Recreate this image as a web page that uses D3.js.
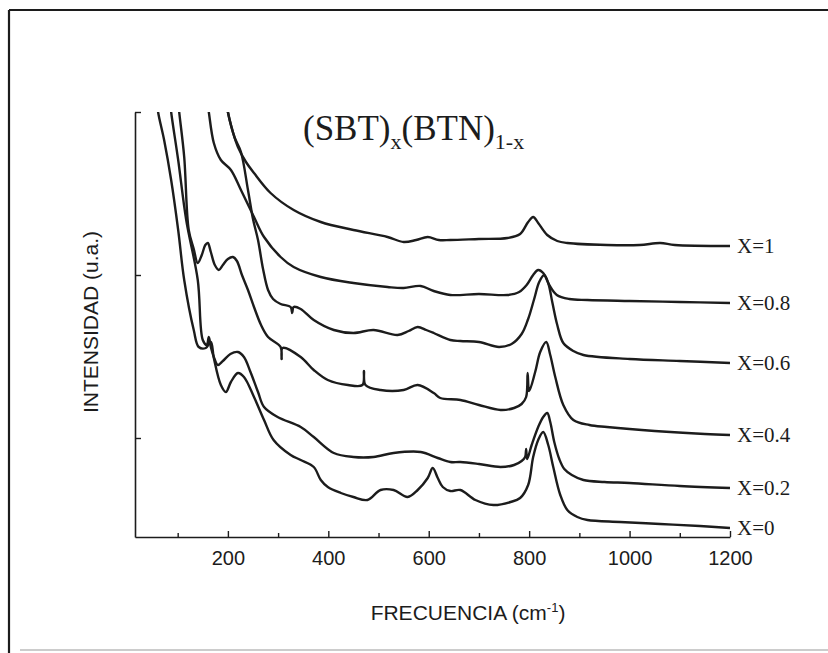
<!DOCTYPE html>
<html><head><meta charset="utf-8">
<script src="https://cdn.jsdelivr.net/npm/d3@7"></script>
<style>body{margin:0;background:#fff}svg{display:block}</style>
</head><body>
<svg id="c" width="828" height="653"></svg>
<script>
// ---- data (frequency cm^-1, intensity a.u.) ----
const xMajorTicks = [200, 400, 600, 800, 1000, 1200];
const xMinorTicks = [100, 300, 500, 700, 900, 1100];
const yTicks = [99, 262, 425];
const seriesNames = ["X=0", "X=0.2", "X=0.4", "X=0.6", "X=0.8", "X=1"];

const specX0 = [[58,440],[61,425],[73,397],[87,357],[101,307],[113,257],[132,207],[142,190],[156,189],[166,195],[172,179],[186,152],[196,145],[206,155],[220,164],[232,160],[252,140],[272,117],[291,97],[325,82],[345,77],[371,70],[385,57],[399,50],[425,44],[450,40],[478,37],[504,47],[530,47],[558,40],[578,47],[598,59],[608,69],[618,59],[628,50],[643,46],[663,47],[693,37],[729,32],[763,35],[782,39],[798,52],[808,80],[818,97],[828,105],[838,92],[848,70],[862,42],[876,27],[896,20],[916,17],[981,15],[1061,13],[1140,11],[1200,9]];
const specX02 = [[84,440],[87,425],[101,377],[117,317],[140,257],[150,197],[158,192],[162,200],[166,190],[172,180],[180,172],[190,176],[205,183],[220,185],[232,180],[245,165],[260,145],[272,130],[299,120],[345,110],[371,100],[411,84],[450,80],[490,80],[530,84],[584,85],[618,79],[643,75],[663,75],[700,73],[743,70],[770,72],[785,76],[792,80],[794,88],[796,78],[805,92],[818,110],[828,120],[836,124],[842,115],[850,95],[860,78],[870,68],[885,62],[908,57],[950,55],[1000,54],[1100,51],[1200,49]];
const specX04 = [[100,440],[103,425],[113,380],[122,307],[132,288],[140,274],[148,282],[155,292],[160,294],[166,285],[174,272],[182,267],[190,272],[200,278],[210,280],[218,276],[228,262],[240,247],[252,230],[266,212],[280,200],[305,190],[307,178],[309,189],[345,180],[371,167],[399,157],[439,152],[468,152],[471,166],[474,152],[504,147],[550,147],[578,152],[610,144],[623,139],[663,137],[700,132],[743,127],[770,129],[785,133],[794,140],[797,164],[800,146],[812,165],[822,185],[834,195],[842,182],[852,160],[868,132],[888,117],[920,112],[955,110],[1050,106],[1150,103],[1200,102]];
const specX06 = [[195,440],[200,425],[213,400],[226,385],[240,347],[250,318],[260,297],[270,268],[280,247],[290,238],[305,233],[325,230],[328,224],[331,230],[345,228],[371,217],[411,207],[450,204],[490,207],[538,202],[560,206],[578,210],[595,207],[610,204],[643,197],[663,196],[700,195],[740,190],[765,193],[785,203],[798,218],[810,238],[820,255],[830,262],[838,254],[846,235],[856,212],[868,194],[888,186],[908,182],[1000,178],[1100,176],[1200,174]];
const specX08 = [[158,440],[162,425],[172,394],[186,377],[206,367],[226,347],[252,320],[272,300],[305,280],[331,270],[385,260],[450,254],[518,250],[550,249],[584,251],[610,246],[643,242],[700,243],[757,242],[780,245],[795,252],[808,262],[818,267],[828,264],[840,252],[855,242],[880,238],[916,237],[1000,236],[1100,235],[1200,234]];
const specX1 = [[196,440],[200,425],[210,405],[220,390],[236,375],[252,364],[285,344],[331,327],[385,315],[450,307],[518,300],[550,295],[575,297],[598,300],[620,297],[643,297],[700,298],[757,299],[782,303],[798,315],[808,320],[818,314],[836,302],[856,296],[876,294],[955,292],[1020,292],[1061,294],[1090,292],[1200,291]];
const allSeries = [specX0, specX02, specX04, specX06, specX08, specX1];

// ---- drawing ----
const svg = d3.select("#c");
const ink = "#1c1c1c";
const sans = "'Liberation Sans', Arial, sans-serif";
const serif = "'Liberation Serif', 'Times New Roman', serif";

// outer frame (scanned figure border)
svg.append("line").attr("x1",9).attr("y1",10).attr("x2",828).attr("y2",10).attr("stroke",ink).attr("stroke-width",2.2);
svg.append("line").attr("x1",9).attr("y1",10).attr("x2",9).attr("y2",653).attr("stroke",ink).attr("stroke-width",2.2);
svg.append("line").attr("x1",20).attr("y1",650).attr("x2",828).attr("y2",650).attr("stroke","#bbb").attr("stroke-width",1.5);

const x = d3.scaleLinear().domain([15, 1200]).range([135, 730]);
const y = d3.scaleLinear().domain([0, 425]).range([537, 112]);

svg.append("defs").append("clipPath").attr("id","plot")
  .append("rect").attr("x",135).attr("y",112).attr("width",600).attr("height",425);

// axes
const gx = svg.append("g").attr("transform","translate(0,537)")
  .call(d3.axisBottom(x).tickValues(xMajorTicks).tickFormat(d3.format("d"))
        .tickSizeInner(-6).tickSizeOuter(0).tickPadding(14));
const gxm = svg.append("g").attr("transform","translate(0,537)")
  .call(d3.axisBottom(x).tickValues(xMinorTicks).tickSizeInner(-4).tickSizeOuter(0).tickFormat(""));
gxm.select(".domain").remove();
const gy = svg.append("g").attr("transform","translate(135,0)")
  .call(d3.axisLeft(y).tickValues(yTicks).tickSizeInner(-6).tickSizeOuter(0).tickFormat(""));
[gx, gxm, gy].forEach(g => {
  g.selectAll(".domain").attr("stroke",ink).attr("stroke-width",1.6);
  g.selectAll(".tick line").attr("stroke",ink).attr("stroke-width",1.4);
});
gx.selectAll(".tick text").attr("font-family",sans).attr("font-size",20).attr("fill",ink);

// spectra
const line = d3.line().x(d => x(d[0])).y(d => y(d[1])).curve(d3.curveCatmullRom.alpha(0.5));
svg.append("g").attr("clip-path","url(#plot)")
  .selectAll("path").data(allSeries).join("path")
  .attr("d", line).attr("fill","none").attr("stroke",ink).attr("stroke-width",2.4)
  .attr("stroke-linejoin","round");

// series labels
svg.append("g").selectAll("text").data(allSeries).join("text")
  .attr("x", d => x(d[d.length-1][0]) + 7)
  .attr("y", d => y(d[d.length-1][1]))
  .attr("dy","0.35em")
  .attr("font-family",serif).attr("font-size",21).attr("fill",ink)
  .text((d,i) => seriesNames[i]);

// title
const t = svg.append("text").attr("x",303).attr("y",140).attr("font-family",serif).attr("font-size",35).attr("fill",ink);
t.append("tspan").text("(SBT)");
t.append("tspan").attr("dy",9).attr("font-size",22).text("x");
t.append("tspan").attr("dy",-9).text("(BTN)");
t.append("tspan").attr("dy",9).attr("font-size",22).text("1-x");

// axis titles
const xl = svg.append("text").attr("x",468).attr("y",620).attr("text-anchor","middle")
  .attr("font-family",sans).attr("font-size",21).attr("fill",ink);
xl.append("tspan").text("FRECUENCIA (cm");
xl.append("tspan").attr("dy",-8).attr("font-size",13).text("-1");
xl.append("tspan").attr("dy",8).text(")");

svg.append("text").attr("transform","translate(98,322) rotate(-90)").attr("text-anchor","middle")
  .attr("font-family",sans).attr("font-size",21).attr("fill",ink).text("INTENSIDAD (u.a.)");
</script>
</body></html>
